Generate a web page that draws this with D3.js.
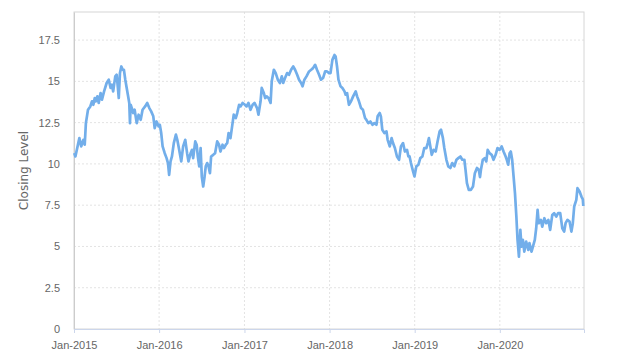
<!DOCTYPE html>
<html>
<head>
<meta charset="utf-8">
<script src="https://cdn.jsdelivr.net/npm/d3@7"></script>
<style>
  body { margin: 0; background: #fff; }
  svg { display: block; font-family: "DejaVu Sans", sans-serif; }
  .grid line { stroke: #e3e3e3; stroke-dasharray: 2,2; }
  .tick text { fill: #666; font-size: 11px; }
</style>
</head>
<body>
<script>
// closing levels, roughly weekly with the visible spikes
const dates = [
  "2015-01-02","2015-01-07","2015-01-24","2015-02-01","2015-02-10","2015-02-16","2015-02-21","2015-03-02","2015-03-12","2015-03-19",
  "2015-03-25","2015-03-31","2015-04-05","2015-04-11","2015-04-17","2015-04-25","2015-05-01","2015-05-10","2015-05-21","2015-05-30",
  "2015-06-07","2015-06-13","2015-06-18","2015-06-27","2015-07-03","2015-07-09","2015-07-12","2015-07-17","2015-07-23","2015-07-29",
  "2015-08-03","2015-08-09","2015-08-15","2015-08-20","2015-08-26","2015-08-29","2015-09-01","2015-09-06","2015-09-12","2015-09-18",
  "2015-09-27","2015-10-05","2015-10-14","2015-10-22","2015-11-02","2015-11-11","2015-11-20","2015-11-28","2015-12-07","2015-12-13",
  "2015-12-21","2015-12-30",
  "2016-01-04","2016-01-10","2016-01-16","2016-01-25","2016-02-02","2016-02-08","2016-02-13","2016-02-19","2016-02-25","2016-03-04",
  "2016-03-13","2016-03-19","2016-03-27","2016-04-05","2016-04-13","2016-04-22","2016-04-30","2016-05-06","2016-05-15","2016-05-21",
  "2016-05-26","2016-06-04","2016-06-10","2016-06-15","2016-06-21","2016-06-27","2016-07-02","2016-07-08","2016-07-14","2016-07-19",
  "2016-07-25","2016-07-31","2016-08-06","2016-08-11","2016-08-20","2016-08-28","2016-09-06","2016-09-14","2016-09-20","2016-09-29",
  "2016-10-05","2016-10-13","2016-10-19","2016-10-25","2016-11-02","2016-11-11","2016-11-16","2016-11-25","2016-12-01","2016-12-09",
  "2016-12-15","2016-12-24",
  "2017-01-03","2017-01-10","2017-01-18","2017-01-27","2017-02-05","2017-02-13","2017-02-24","2017-03-02","2017-03-11","2017-03-16",
  "2017-03-25","2017-03-31","2017-04-06","2017-04-14","2017-04-23","2017-04-28","2017-05-07","2017-05-15","2017-05-24","2017-06-02",
  "2017-06-10","2017-06-16","2017-06-24","2017-07-03","2017-07-11","2017-07-20","2017-07-29","2017-08-06","2017-08-15","2017-08-23",
  "2017-09-01","2017-09-07","2017-09-15","2017-09-24","2017-10-05","2017-10-14","2017-10-22","2017-10-31","2017-11-08","2017-11-17",
  "2017-11-25","2017-12-04","2017-12-13","2017-12-21","2017-12-30",
  "2018-01-05","2018-01-13","2018-01-22","2018-01-27","2018-02-02","2018-02-08","2018-02-17","2018-02-25","2018-03-06","2018-03-11",
  "2018-03-17","2018-03-25","2018-04-03","2018-04-12","2018-04-23","2018-04-29","2018-05-07","2018-05-16","2018-05-24","2018-06-02",
  "2018-06-08","2018-06-16","2018-06-25","2018-07-04","2018-07-12","2018-07-21","2018-07-26","2018-08-04","2018-08-09","2018-08-15",
  "2018-08-24","2018-09-02","2018-09-07","2018-09-16","2018-09-24","2018-09-30","2018-10-08","2018-10-17","2018-10-26","2018-11-03",
  "2018-11-12","2018-11-20","2018-11-29","2018-12-05","2018-12-10","2018-12-16","2018-12-25","2018-12-31",
  "2019-01-08","2019-01-17","2019-01-25","2019-02-03","2019-02-11","2019-02-20","2019-02-26","2019-03-03","2019-03-09","2019-03-15",
  "2019-03-23","2019-04-01","2019-04-09","2019-04-18","2019-04-24","2019-05-02","2019-05-08","2019-05-17","2019-05-25","2019-06-03",
  "2019-06-11","2019-06-20","2019-06-29","2019-07-07","2019-07-16","2019-07-24","2019-08-02","2019-08-07","2019-08-13","2019-08-21",
  "2019-08-30","2019-09-08","2019-09-16","2019-09-25","2019-10-03","2019-10-08","2019-10-12","2019-10-20","2019-10-29","2019-11-04",
  "2019-11-10","2019-11-18","2019-11-27","2019-12-05","2019-12-14","2019-12-22","2019-12-31",
  "2020-01-09","2020-01-17","2020-01-26","2020-01-31","2020-02-06","2020-02-12","2020-02-17","2020-02-23","2020-02-29","2020-03-06",
  "2020-03-12","2020-03-17","2020-03-23","2020-03-29","2020-04-03","2020-04-09","2020-04-15","2020-04-23","2020-05-02","2020-05-07",
  "2020-05-16","2020-05-22","2020-05-30","2020-06-05","2020-06-11","2020-06-16","2020-06-25","2020-07-01","2020-07-10","2020-07-18",
  "2020-07-27","2020-08-04","2020-08-13","2020-08-21","2020-08-30","2020-09-07","2020-09-16","2020-09-25","2020-10-03","2020-10-09",
  "2020-10-17","2020-10-26","2020-11-03","2020-11-09","2020-11-15","2020-11-24","2020-11-29","2020-12-08","2020-12-16","2020-12-22",
  "2020-12-24"
]
const closes = [
  10.65,10.45,11.56,11.06,11.46,11.16,12.47,13.28,13.48,13.79,
  13.58,13.99,13.79,14.09,13.69,14.29,13.89,14.39,14.90,15.10,
  14.60,14.80,14.39,15.30,15.40,14.49,13.99,15.50,15.90,15.70,
  15.70,15.10,14.60,14.19,13.69,12.47,13.58,13.38,13.08,13.28,
  12.47,12.98,12.67,13.28,13.48,13.69,13.38,13.18,12.88,12.17,
  12.57,12.27,
  12.37,11.87,11.06,10.65,10.35,10.05,9.34,10.15,10.45,11.26,
  11.77,11.46,10.85,10.15,11.06,11.46,10.65,10.15,10.65,10.85,
  10.35,11.36,11.16,10.45,9.85,10.96,9.24,8.63,9.24,9.85,
  10.05,9.85,9.44,10.45,10.55,10.65,11.36,11.16,10.75,11.16,
  10.96,11.16,11.26,11.87,11.56,12.47,12.98,12.78,13.08,13.58,
  13.48,13.69,
  13.58,13.48,13.69,13.28,13.58,13.69,13.38,12.98,13.79,14.60,
  14.29,13.99,14.09,13.99,13.69,15.00,15.70,15.50,15.10,14.90,
  15.30,14.90,15.20,15.50,15.40,15.70,15.90,15.70,15.40,15.10,
  14.90,14.70,15.10,15.30,15.60,15.70,15.80,16.00,15.70,15.40,
  15.10,15.20,15.60,15.60,15.50,
  15.50,16.30,16.60,16.50,15.90,15.10,14.70,14.60,14.39,14.19,
  14.29,13.58,13.79,14.09,14.39,14.09,13.79,13.38,13.28,12.78,
  12.67,12.47,12.57,12.37,12.47,12.37,12.88,13.08,12.88,12.07,
  11.87,11.97,11.46,11.06,11.56,11.26,10.96,10.45,10.25,11.06,
  11.26,10.75,10.85,10.45,10.45,10.05,9.54,9.24,
  9.85,9.95,10.35,10.45,10.96,10.96,11.26,11.56,11.06,10.55,
  10.85,10.75,11.36,11.97,12.07,11.56,10.96,10.25,9.85,9.75,
  10.05,9.85,10.25,10.35,10.45,10.25,10.25,9.64,8.84,8.43,
  8.43,8.63,9.44,9.75,9.64,9.20,9.64,10.25,10.35,10.15,
  10.85,10.65,10.55,10.25,10.55,10.96,10.85,
  11.06,10.75,10.45,10.25,9.95,10.65,10.75,10.25,9.24,8.23,
  6.81,5.40,4.38,6.00,4.99,5.40,4.69,5.30,4.79,5.20,
  4.69,4.99,5.40,6.10,7.22,6.41,6.61,6.20,6.71,6.41,
  6.61,6.00,6.91,7.02,6.81,7.02,7.02,6.10,5.90,6.41,
  6.61,6.51,5.90,6.41,7.42,7.82,8.53,8.33,8.02,7.85,
  7.45
]
const yTicks = [0, 2.5, 5, 7.5, 10, 12.5, 15, 17.5]
const xTickYears = [2015, 2016, 2017, 2018, 2019, 2020]
const yLabel = "Closing Level"

const width = 624, height = 362
const margin = {top: 12, right: 40, bottom: 33, left: 74}

const parse = d3.timeParse("%Y-%m-%d")
const series = dates.map((d, i) => ({date: parse(d), value: closes[i]}))

const svg = d3.select("body").append("svg")
    .attr("width", width)
    .attr("height", height)

const x = d3.scaleTime()
    .domain([new Date(2015, 0, 1), new Date(2020, 11, 27)])
    .range([margin.left, width - margin.right])
const y = d3.scaleLinear()
    .domain([0, 19.2])
    .range([height - margin.bottom, margin.top])

const xTicks = xTickYears.map(yr => new Date(yr, 0, 1))

// gridlines
svg.append("g").classed("grid", true)
    .selectAll("line")
    .data(yTicks.filter(t => t > 0))
    .join("line")
    .attr("x1", margin.left)
    .attr("x2", width - margin.right)
    .attr("y1", d => y(d))
    .attr("y2", d => y(d))
svg.append("g").classed("grid", true)
    .selectAll("line")
    .data(xTicks.slice(1))
    .join("line")
    .attr("x1", d => x(d))
    .attr("x2", d => x(d))
    .attr("y1", margin.top)
    .attr("y2", height - margin.bottom)

// plot frame
svg.append("rect")
    .attr("x", margin.left)
    .attr("y", margin.top)
    .attr("width", width - margin.left - margin.right)
    .attr("height", height - margin.top - margin.bottom)
    .attr("fill", "none")
    .attr("stroke", "#d6d6d6")

// axes
const yAxis = svg.append("g")
    .attr("transform", `translate(${margin.left},0)`)
    .call(d3.axisLeft(y).tickValues(yTicks).tickSize(0).tickPadding(14).tickFormat(d => String(d)))
yAxis.select(".domain").attr("stroke", "#ccc")

const xAxis = svg.append("g")
    .attr("transform", `translate(0,${height - margin.bottom})`)
    .call(d3.axisBottom(x).tickValues(xTicks).tickSize(4).tickPadding(8).tickFormat(d3.timeFormat("%b-%Y")))
xAxis.select(".domain").attr("stroke", "#ccd6eb")
xAxis.selectAll(".tick line").attr("stroke", "#ccd6eb")

svg.append("text")
    .attr("transform", `translate(28,${(margin.top + height - margin.bottom) / 2}) rotate(-90)`)
    .attr("text-anchor", "middle")
    .attr("fill", "#666")
    .style("font-size", "12px")
    .text(yLabel)

// the series
const line = d3.line()
    .x(d => x(d.date))
    .y(d => y(d.value))
svg.append("path")
    .datum(series)
    .attr("fill", "none")
    .attr("stroke", "#72aeea")
    .attr("stroke-width", 2.7)
    .attr("stroke-linejoin", "round")
    .attr("d", line)
</script>
</body>
</html>
